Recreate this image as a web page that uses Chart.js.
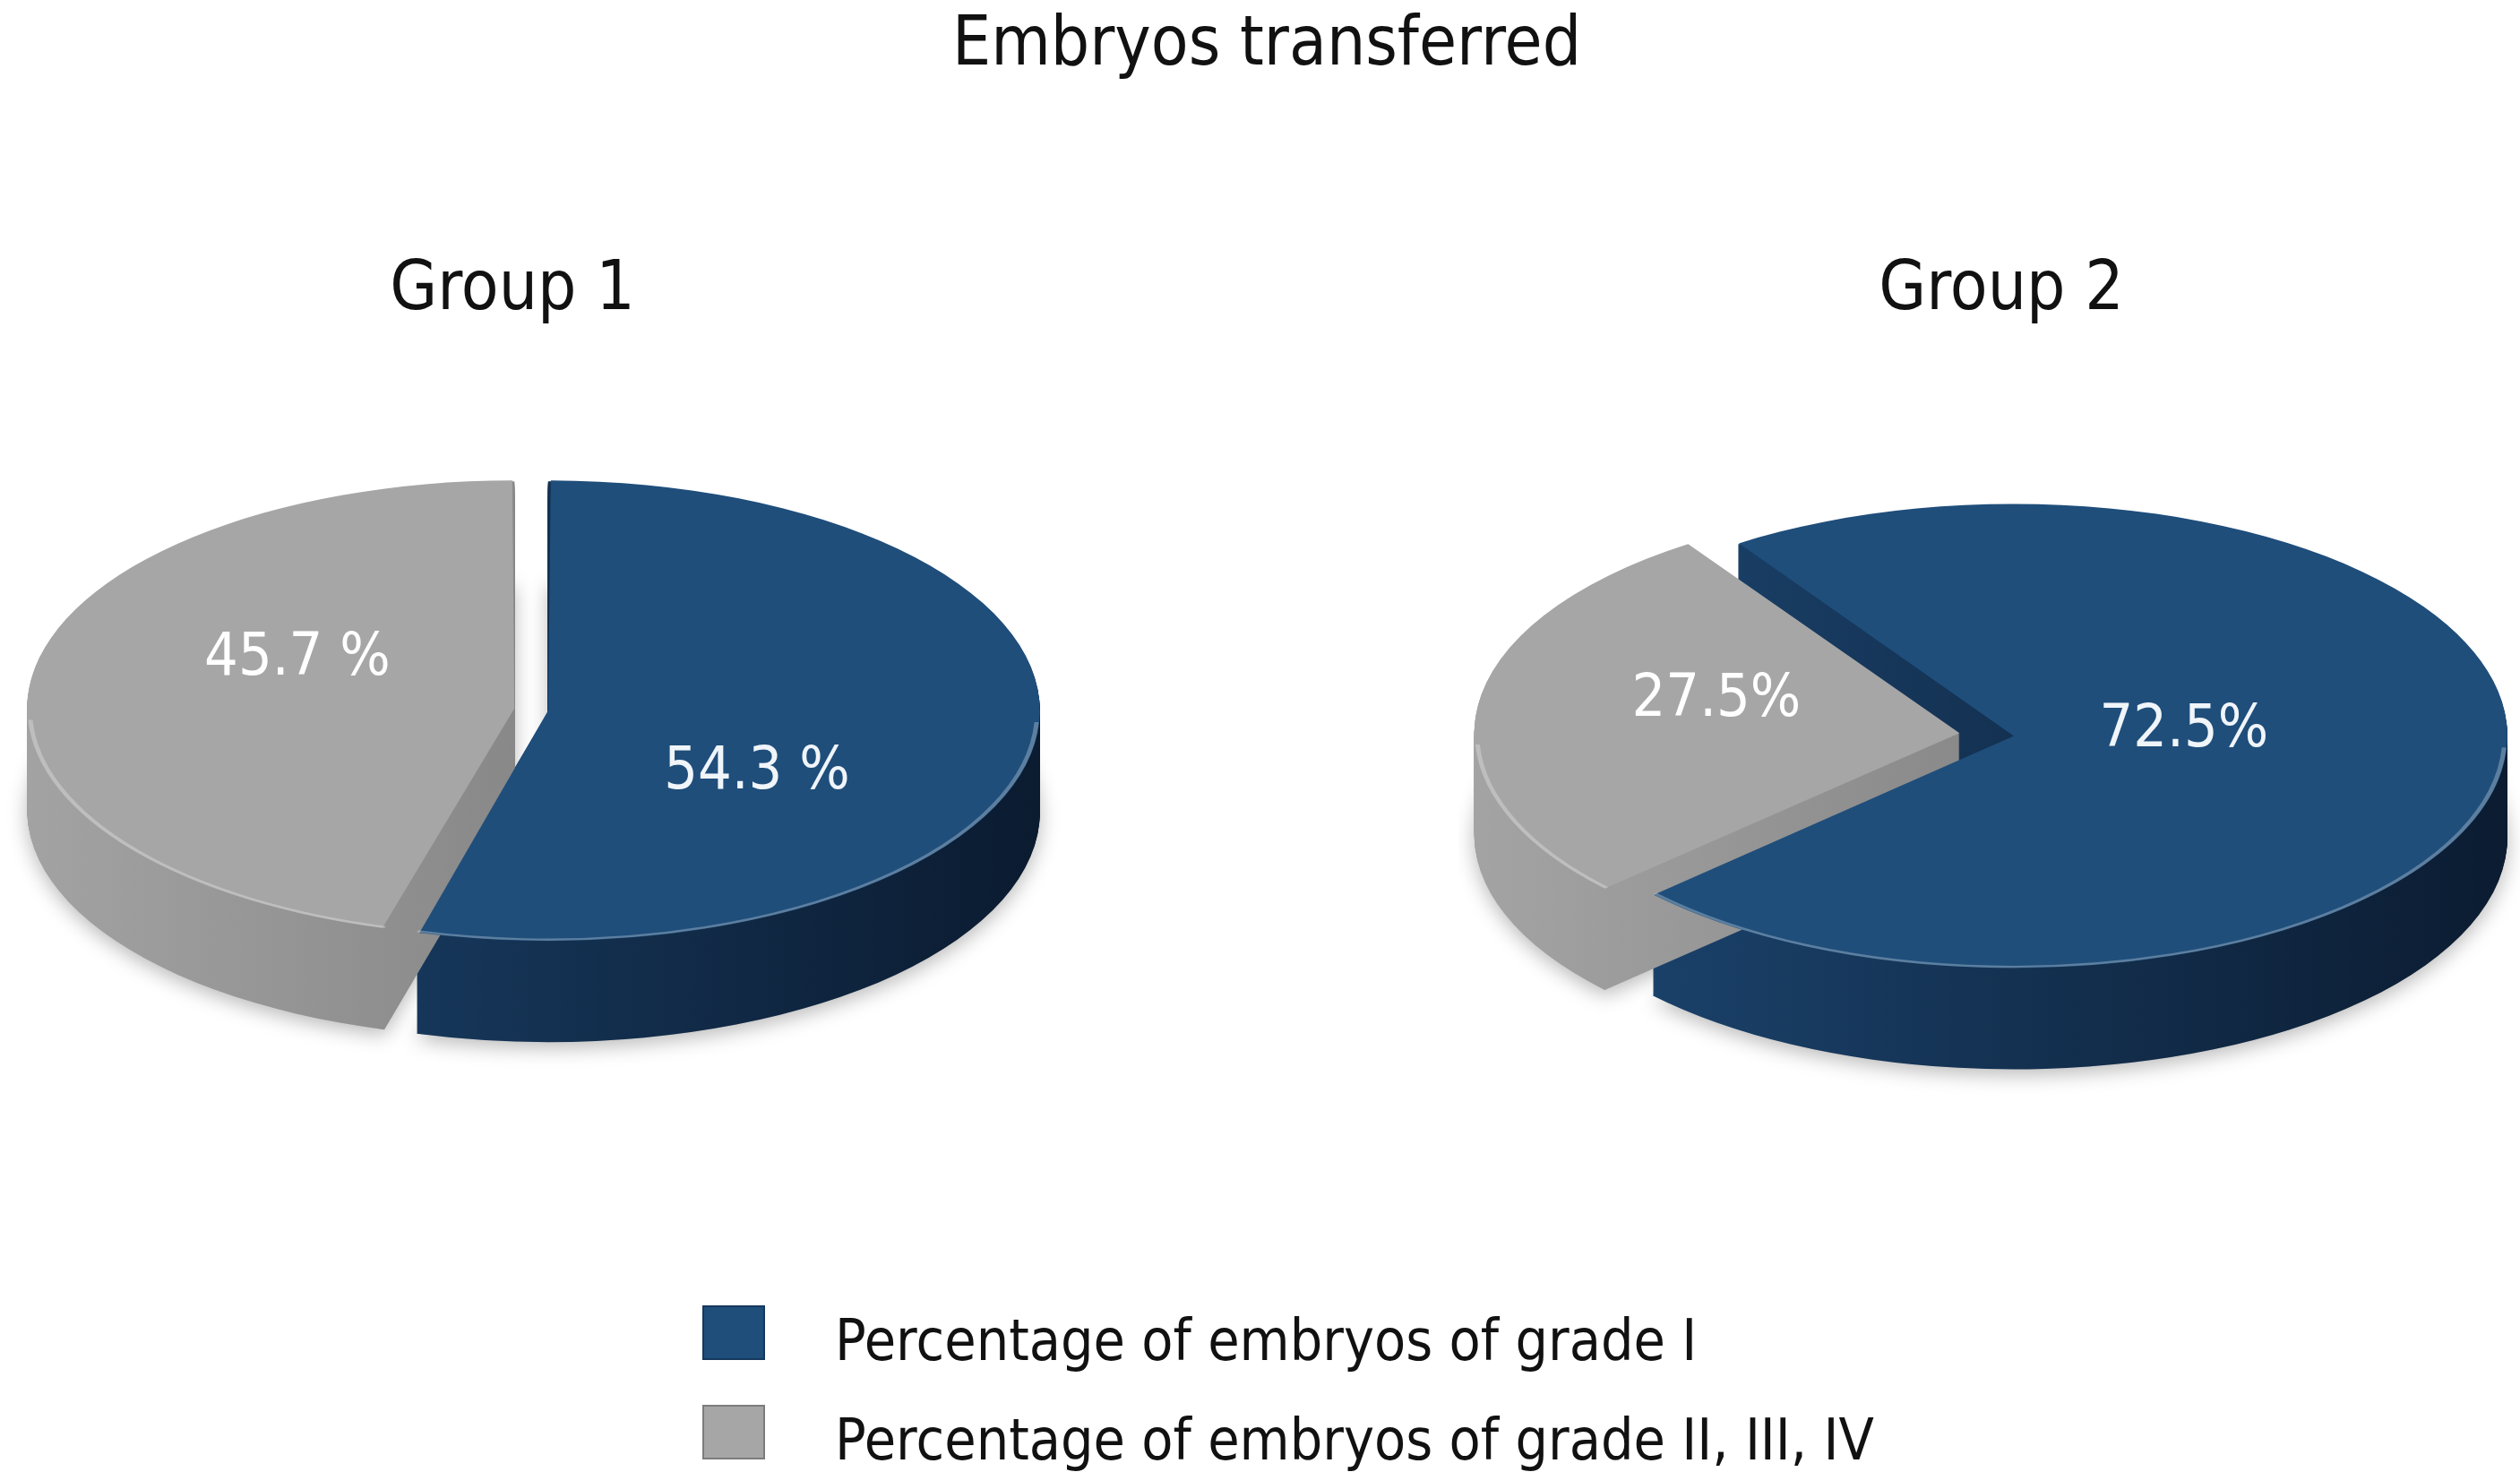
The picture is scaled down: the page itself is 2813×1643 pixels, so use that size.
<!DOCTYPE html>
<html>
<head>
<meta charset="utf-8">
<title>Embryos transferred</title>
<script src="https://cdn.jsdelivr.net/npm/chart.js@4.4.1/dist/chart.umd.min.js"></script>
<style>
  html, body { margin: 0; padding: 0; background: #fff; }
  body { width: 2813px; height: 1643px; position: relative; overflow: hidden;
         font-family: "DejaVu Sans", Verdana, sans-serif; color: #111; }
  .txt { position: absolute; white-space: nowrap; line-height: 1; transform: scaleX(0.9); }
  .mid { width: 1200px; text-align: center; transform-origin: center top; }
  .lft { transform-origin: left top; }
  canvas { position: absolute; }
  .box { position: absolute; width: 66px; height: 57px; border: 2px solid; }
</style>
</head>
<body>
<div class="txt mid" id="title" style="left:814px; top:8px; font-size:76px;"></div>
<div class="txt mid" id="g1name" style="left:-28px; top:281px; font-size:76px;"></div>
<div class="txt mid" id="g2name" style="left:1634px; top:281px; font-size:76px;"></div>

<canvas id="pie1" width="1186" height="800" style="left:0px; top:392px;"></canvas>
<canvas id="pie2" width="1220" height="800" style="left:1628px; top:421px;"></canvas>

<div id="legend"></div>

<script>
// data
const chartTitle = 'Embryos transferred';
const groupNames = ['Group 1', 'Group 2'];
const categories = ['Percentage of embryos of grade I', 'Percentage of embryos of grade II, III, IV'];
const group1Values = [54.3, 45.7];
const group2Values = [72.5, 27.5];

// colours
const faceColors = ['#1f4e7b', '#a6a6a6'];
const sideColors = [['#1d4874', '#0b1b30'], ['#a3a3a3', '#6c6c6c']];
const boxBorders = ['#16385c', '#7c7c7c'];
const labelColors = ['#f0f5fa', '#ffffff'];

document.getElementById('title').textContent = chartTitle;
document.getElementById('g1name').textContent = groupNames[0];
document.getElementById('g2name').textContent = groupNames[1];

// legend
const legendTops = [1457, 1568];
const legend = document.getElementById('legend');
categories.forEach(function(name, i) {
  const box = document.createElement('div');
  box.className = 'box';
  box.style.left = '784px';
  box.style.top = legendTops[i] + 'px';
  box.style.background = faceColors[i];
  box.style.borderColor = boxBorders[i];
  legend.appendChild(box);
  const t = document.createElement('div');
  t.className = 'txt lft';
  t.style.left = '932px';
  t.style.top = (legendTops[i] + 7) + 'px';
  t.style.fontSize = '64px';
  t.textContent = name;
  legend.appendChild(t);
});

// geometry of an arc as chart.js draws it (offset shifts the slice)
function geom(el) {
  const off = (el.options.offset || 0) / 4;
  const circ = el.endAngle - el.startAngle;
  const fix = 1 - Math.sin(Math.min(Math.PI, circ));
  const mid = (el.startAngle + el.endAngle) / 2;
  return {
    start: el.startAngle, end: el.endAngle, mid: mid,
    r: el.outerRadius + off * fix,
    ox: el.x + Math.cos(mid) * off,
    oy: el.y + Math.sin(mid) * off
  };
}

function wedge(ctx, p) {
  ctx.beginPath();
  ctx.moveTo(p.ox, p.oy);
  ctx.arc(p.ox, p.oy, p.r, p.start, p.end);
  ctx.closePath();
}

// tilted pie with a side wall
const pie3d = {
  id: 'pie3d',
  beforeDatasetsDraw(chart, args, opts) {
    const ctx = chart.ctx;
    const meta = chart.getDatasetMeta(0);
    const cx = meta.data[0].x, cy = meta.data[0].y, k = opts.tilt;
    ctx.save();
    ctx.translate(cx, cy);
    ctx.scale(1, k);
    ctx.translate(-cx, -cy);
    const R = meta.data[0].outerRadius + 40;

    // soft shadow under the whole pie
    meta.data.forEach(function(el) {
      const p = geom(el);
      ctx.save();
      ctx.translate(0, opts.depth / k);
      ctx.shadowColor = 'rgba(0,0,0,0.28)';
      ctx.shadowBlur = 22;
      ctx.shadowOffsetY = 6;
      wedge(ctx, p);
      ctx.fillStyle = '#bbbbbb';
      ctx.fill();
      ctx.restore();
    });

    meta.data.forEach(function(el, i) {
      const p = geom(el);
      const g = ctx.createLinearGradient(cx - R, 0, cx + R, 0);
      g.addColorStop(0, sideColors[i][0]);
      g.addColorStop(1, sideColors[i][1]);
      for (let d = opts.depth; d >= 1; d -= 1) {
        ctx.save();
        ctx.translate(0, d / k);
        wedge(ctx, p);
        ctx.fillStyle = g;
        ctx.fill();
        ctx.restore();
      }
    });
  },
  afterDatasetsDraw(chart, args, opts) {
    const ctx = chart.ctx;
    const meta = chart.getDatasetMeta(0);
    const cy = meta.data[0].y, k = opts.tilt;
    const values = chart.data.datasets[0].data;

    // light rim along the front edge of the top face
    meta.data.forEach(function(el) {
      const p = geom(el);
      for (let n = -1; n <= 2; n++) {
        const a0 = Math.max(p.start, 2 * Math.PI * n + 0.05);
        const a1 = Math.min(p.end, 2 * Math.PI * n + Math.PI - 0.05);
        if (a1 > a0) {
          ctx.beginPath();
          ctx.arc(p.ox, p.oy, p.r - 3, a0, a1);
          ctx.strokeStyle = 'rgba(255,255,255,0.28)';
          ctx.lineWidth = 5;
          ctx.stroke();
        }
      }
    });
    ctx.restore();

    // value labels
    meta.data.forEach(function(el, i) {
      const p = geom(el);
      const place = opts.labelPlace[i];
      const a = p.mid + place[1] * Math.PI / 180;
      const x = p.ox + Math.cos(a) * p.r * place[0];
      const y = cy + (p.oy - cy + Math.sin(a) * p.r * place[0]) * k;
      ctx.save();
      ctx.translate(x, y + 24);
      ctx.scale(0.9, 1);
      ctx.font = '66px "DejaVu Sans"';
      ctx.textAlign = 'center';
      ctx.textBaseline = 'alphabetic';
      ctx.fillStyle = labelColors[i];
      ctx.fillText(opts.format(values[i]), 0, 0);
      ctx.restore();
    });
  }
};

function makePie(id, values, rotation, radius, offsets, tilt, depth, labelPlace, format) {
  return new Chart(document.getElementById(id), {
    type: 'pie',
    data: {
      labels: categories,
      datasets: [{
        data: values,
        backgroundColor: faceColors,
        borderWidth: 0,
        offset: offsets,
        hoverOffset: 0,
        clip: false
      }]
    },
    options: {
      responsive: false,
      animation: false,
      events: [],
      rotation: rotation,
      radius: radius,
      plugins: {
        legend: { display: false },
        tooltip: { enabled: false },
        pie3d: { tilt: tilt, depth: depth, labelPlace: labelPlace, format: format }
      }
    },
    plugins: [pie3d]
  });
}

makePie('pie1', group1Values, 0, 530, [76, 76], 0.468, 113,
  [[0.49, 22.2], [0.507, 20.8]], function(v) { return v.toFixed(1) + ' %'; });
makePie('pie2', group2Values, 326, 541, [40, 204], 0.47, 113,
  [[0.348, -14.5], [0.529, 12.2]], function(v) { return v.toFixed(1) + '%'; });
</script>
</body>
</html>
